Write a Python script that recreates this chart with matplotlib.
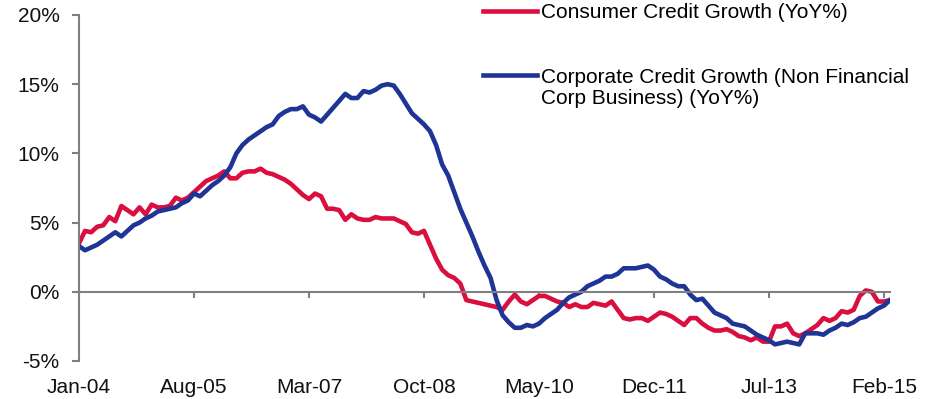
import numpy as np
import pandas as pd
import matplotlib
matplotlib.use("Agg")
import matplotlib.pyplot as plt
from matplotlib.lines import Line2D
from matplotlib.ticker import FuncFormatter

plt.rcParams['font.family'] = ['Liberation Sans', 'DejaVu Sans']
plt.rcParams['axes.unicode_minus'] = False

# monthly YoY growth, Jan-04 .. Mar-15
months = pd.date_range("2004-01-01", periods=135, freq="MS").strftime("%b-%y").tolist()

consumer = [3.5, 4.4, 4.3, 4.7, 4.8, 5.4, 5.1, 6.2, 5.9, 5.6,
            6.1, 5.6, 6.3, 6.1, 6.1, 6.2, 6.8, 6.6, 6.8, 7.2,
            7.6, 8.0, 8.2, 8.4, 8.7, 8.2, 8.2, 8.6, 8.7, 8.7,
            8.9, 8.6, 8.5, 8.3, 8.1, 7.8, 7.4, 7.0, 6.7, 7.1,
            6.9, 6.0, 6.0, 5.9, 5.2, 5.6, 5.3, 5.2, 5.2, 5.4,
            5.3, 5.3, 5.3, 5.1, 4.9, 4.3, 4.2, 4.4, 3.4, 2.4,
            1.6, 1.2, 1.0, 0.6, -0.6, -0.7, -0.8, -0.9, -1.0, -1.1,
            -1.3, -0.7, -0.2, -0.7, -0.9, -0.6, -0.3, -0.3, -0.5, -0.7,
            -0.8, -1.1, -0.9, -1.1, -1.1, -0.8, -0.9, -1.0, -0.7, -1.3,
            -1.9, -2.0, -1.9, -1.9, -2.1, -1.8, -1.5, -1.6, -1.8, -2.1,
            -2.4, -1.9, -1.9, -2.3, -2.6, -2.8, -2.8, -2.7, -2.9, -3.2,
            -3.3, -3.5, -3.3, -3.6, -3.6, -2.5, -2.5, -2.3, -3.0, -3.2,
            -3.0, -2.7, -2.4, -1.9, -2.1, -1.9, -1.4, -1.5, -1.3, -0.3,
            0.1, 0.0, -0.7, -0.7, -0.6]

corporate = [3.3, 3.0, 3.2, 3.4, 3.7, 4.0, 4.3, 4.0, 4.4, 4.8,
             5.0, 5.3, 5.5, 5.8, 5.9, 6.0, 6.1, 6.4, 6.6, 7.1,
             6.9, 7.3, 7.7, 8.0, 8.4, 9.0, 10.0, 10.6, 11.0, 11.3,
             11.6, 11.9, 12.1, 12.7, 13.0, 13.2, 13.2, 13.4, 12.8, 12.6,
             12.3, 12.8, 13.3, 13.8, 14.3, 14.0, 14.0, 14.5, 14.4, 14.6,
             14.9, 15.0, 14.9, 14.3, 13.6, 12.9, 12.5, 12.1, 11.6, 10.6,
             9.2, 8.4, 7.2, 6.0, 5.0, 4.0, 2.9, 1.9, 1.0, -0.6,
             -1.7, -2.2, -2.6, -2.6, -2.4, -2.5, -2.3, -1.9, -1.6, -1.3,
             -0.8, -0.4, -0.2, 0.0, 0.4, 0.6, 0.8, 1.1, 1.1, 1.3,
             1.7, 1.7, 1.7, 1.8, 1.9, 1.6, 1.1, 0.9, 0.6, 0.4,
             0.4, -0.2, -0.6, -0.5, -1.0, -1.5, -1.7, -1.9, -2.3, -2.4,
             -2.5, -2.8, -3.1, -3.3, -3.5, -3.8, -3.7, -3.6, -3.7, -3.8,
             -3.0, -3.0, -3.0, -3.1, -2.8, -2.6, -2.3, -2.4, -2.2, -1.9,
             -1.8, -1.5, -1.2, -1.0, -0.6]

red = '#DA0F40'
blue = '#1E3595'
grey = '#808080'
lw = 3.3

x = np.arange(len(months))

fig, ax = plt.subplots(figsize=(9.41, 3.99), dpi=100)
fig.subplots_adjust(left=79/941, right=890/941, bottom=1-361/399, top=1-15/399)

ax.plot(x, consumer, color=red, lw=lw, solid_joinstyle='round')
ax.plot(x, corporate, color=blue, lw=lw, solid_joinstyle='round')

ax.set_xlim(0, len(months) - 1)
ax.set_ylim(-5, 20)
ax.set_yticks([-5, 0, 5, 10, 15, 20])
ax.yaxis.set_major_formatter(FuncFormatter(lambda v, p: f"{v:.0f}%"))

tick_pos = x[::19]
ax.set_xticks(tick_pos)
ax.set_xticklabels([months[i] for i in tick_pos])

for s in ['top', 'right']:
    ax.spines[s].set_visible(False)
ax.spines['bottom'].set_position(('data', 0))
for s in ['left', 'bottom']:
    ax.spines[s].set_color(grey)
    ax.spines[s].set_linewidth(1.5)

ax.tick_params(axis='y', direction='out', length=5, width=1.5, color=grey,
               labelsize=15, pad=9, labelcolor='#111111')
ax.tick_params(axis='x', direction='out', length=4, width=1.5, color=grey,
               labelsize=15, pad=58, labelcolor='#111111')

leg_kw = dict(frameon=False, fontsize=15, borderpad=0, borderaxespad=0,
              handlelength=2.6, handletextpad=0.2,
              bbox_transform=fig.transFigure)

leg1 = ax.legend([Line2D([], [], color=red, lw=lw)],
                 ["Consumer Credit Growth (YoY%)"],
                 loc='center left', bbox_to_anchor=(483/941, 1-12.5/399), **leg_kw)
ax.add_artist(leg1)
ax.legend([Line2D([], [], color=blue, lw=lw), Line2D([], [], color='none')],
          ["Corporate Credit Growth (Non Financial", "Corp Business) (YoY%)"],
          loc='center left', bbox_to_anchor=(483/941, 1-88/399),
          labelspacing=0.12, **leg_kw)

fig.savefig("out.png", dpi=100)
